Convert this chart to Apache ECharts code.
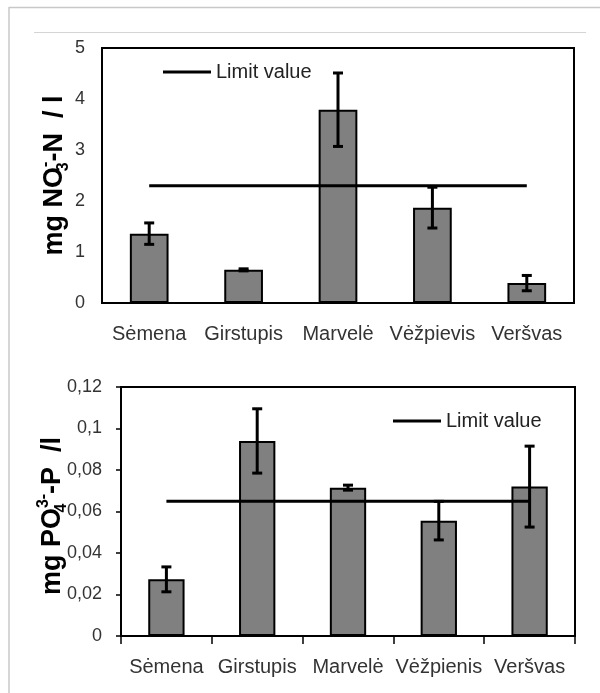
<!DOCTYPE html>
<html>
<head>
<meta charset="utf-8">
<script src="https://cdn.jsdelivr.net/npm/echarts@6/dist/echarts.min.js"></script>
<style>
html,body{margin:0;padding:0;background:#fff;}
#chart{width:600px;height:693px;}
</style>
</head>
<body>
<div id="chart"></div>
<script>
// ---- data ----
const categoriesTop = ['Sėmena', 'Girstupis', 'Marvelė', 'Vėžpievis', 'Veršvas'];
const nitrateMean = [1.36, 0.65, 3.79, 1.87, 0.39];
const nitrateErr = [0.21, 0.02, 0.72, 0.40, 0.15];
const nitrateLimit = [2.3, 2.3, 2.3, 2.3, 2.3];

const categoriesBottom = ['Sėmena', 'Girstupis', 'Marvelė', 'Vėžpienis', 'Veršvas'];
const phosphateMean = [0.0273, 0.094, 0.0715, 0.0556, 0.072];
const phosphateErr = [0.006, 0.0155, 0.0012, 0.0093, 0.0195];
const phosphateLimit = [0.065, 0.065, 0.065, 0.065, 0.065];

const topTicks = [0, 1, 2, 3, 4, 5];
const bottomTicks = ['0', '0,02', '0,04', '0,06', '0,08', '0,1', '0,12'];

// ---- build ----
function errData(mean, err) {
  return mean.map((m, i) => [i, m - err[i], m + err[i]]);
}
function errRender(params, api) {
  const lo = api.coord([api.value(0), api.value(1)]);
  const hi = api.coord([api.value(0), api.value(2)]);
  const hw = 5;
  const st = { stroke: '#000', lineWidth: 3 };
  return {
    type: 'group',
    children: [
      { type: 'line', shape: { x1: lo[0], y1: lo[1], x2: hi[0], y2: hi[1] }, style: st },
      { type: 'line', shape: { x1: lo[0] - hw, y1: lo[1], x2: lo[0] + hw, y2: lo[1] }, style: st },
      { type: 'line', shape: { x1: hi[0] - hw, y1: hi[1], x2: hi[0] + hw, y2: hi[1] }, style: st }
    ]
  };
}
const FONT = 'Liberation Sans, Arial, sans-serif';
const labelColor = '#333';
const rich = {
  b: { fontSize: 27, fontWeight: 'bold', color: '#000', fontFamily: FONT, lineHeight: 34 },
  sub: { fontSize: 16, fontWeight: 'bold', color: '#000', fontFamily: FONT, verticalAlign: 'bottom', lineHeight: 17, width: 0 },
  sup: { fontSize: 16, fontWeight: 'bold', color: '#000', fontFamily: FONT, verticalAlign: 'top', lineHeight: 18 }
};

const chart = echarts.init(document.getElementById('chart'), null, { renderer: 'canvas' });
chart.setOption({
  animation: false,
  backgroundColor: '#fff',
  textStyle: { fontFamily: FONT },
  graphic: [
    { type: 'line', shape: { x1: 9, y1: 7.5, x2: 600, y2: 7.5 }, style: { stroke: '#c8c8c8', lineWidth: 1.5 } },
    { type: 'line', shape: { x1: 9, y1: 7, x2: 9, y2: 693 }, style: { stroke: '#c8c8c8', lineWidth: 1.5 } },
    { type: 'line', shape: { x1: 34, y1: 32.5, x2: 586, y2: 32.5 }, style: { stroke: '#d4d4d4', lineWidth: 1 } }
  ],
  legend: [
    { left: 158, top: 57, data: ['Limit value'], icon: 'rect', itemWidth: 48, itemHeight: 3,
      itemStyle: { color: '#000' }, textStyle: { fontSize: 20, color: '#222', fontFamily: FONT }, selectedMode: false },
    { left: 388, top: 406, data: ['Limit value'], icon: 'rect', itemWidth: 48, itemHeight: 3,
      itemStyle: { color: '#000' }, textStyle: { fontSize: 20, color: '#222', fontFamily: FONT }, selectedMode: false }
  ],
  grid: [
    { left: 102, top: 48, width: 472, height: 255, show: true, borderColor: '#000', borderWidth: 2, backgroundColor: 'transparent' },
    { left: 121, top: 387, width: 454, height: 249, show: true, borderColor: '#000', borderWidth: 2, backgroundColor: 'transparent' }
  ],
  xAxis: [
    { type: 'category', gridIndex: 0, data: categoriesTop,
      axisLine: { lineStyle: { color: '#000', width: 2 } }, axisTick: { show: false },
      axisLabel: { fontSize: 20, color: labelColor, margin: 21, interval: 0, fontFamily: FONT } },
    { type: 'category', gridIndex: 1, data: categoriesBottom,
      axisLine: { lineStyle: { color: '#000', width: 2 } },
      axisTick: { show: true, length: 8, lineStyle: { color: '#000', width: 1.5 } },
      axisLabel: { fontSize: 20, color: labelColor, margin: 21, interval: 0, fontFamily: FONT } }
  ],
  yAxis: [
    { type: 'value', gridIndex: 0, min: 0, max: 5, interval: 1,
      axisLine: { show: true, lineStyle: { color: '#000', width: 2 } }, axisTick: { show: false },
      splitLine: { show: false },
      axisLabel: { fontSize: 18, color: labelColor, margin: 17, fontFamily: FONT,
        formatter: v => String(topTicks[Math.round(v)]) },
      name: '{b|mg NO}{sub|3}{sup|-}{b|-N  / l}', nameLocation: 'middle', nameRotate: 90, nameGap: 30,
      nameMoveOverlap: false,
      nameTextStyle: { fontSize: 27, fontWeight: 'bold', rich: rich } },
    { type: 'value', gridIndex: 1, min: 0, max: 0.12, interval: 0.02,
      axisLine: { show: true, lineStyle: { color: '#000', width: 2 } },
      axisTick: { show: true, length: 5, lineStyle: { color: '#000', width: 1.5 } },
      splitLine: { show: false },
      axisLabel: { fontSize: 18, color: labelColor, margin: 19, fontFamily: FONT,
        formatter: v => bottomTicks[Math.round(v / 0.02)] },
      name: '{b|mg PO}{sub|4}{sup|3-}{b|-P  /l}', nameLocation: 'middle', nameRotate: 90, nameGap: 51,
      nameMoveOverlap: false,
      nameTextStyle: { fontSize: 27, fontWeight: 'bold', padding: [0, 9, 0, 0], rich: rich } }
  ],
  series: [
    { type: 'bar', xAxisIndex: 0, yAxisIndex: 0, data: nitrateMean, barWidth: '41%',
      itemStyle: { color: '#808080', borderColor: '#000', borderWidth: 2 }, z: 2 },
    { type: 'custom', xAxisIndex: 0, yAxisIndex: 0, data: errData(nitrateMean, nitrateErr),
      renderItem: errRender, encode: { x: 0, y: [1, 2] }, z: 3 },
    { name: 'Limit value', type: 'line', xAxisIndex: 0, yAxisIndex: 0, data: nitrateLimit,
      symbol: 'none', lineStyle: { color: '#000', width: 3 }, itemStyle: { color: '#000' }, z: 4 },
    { type: 'bar', xAxisIndex: 1, yAxisIndex: 1, data: phosphateMean, barWidth: '40%',
      itemStyle: { color: '#808080', borderColor: '#000', borderWidth: 2 }, z: 2 },
    { type: 'custom', xAxisIndex: 1, yAxisIndex: 1, data: errData(phosphateMean, phosphateErr),
      renderItem: errRender, encode: { x: 0, y: [1, 2] }, z: 3 },
    { name: 'Limit value', type: 'line', xAxisIndex: 1, yAxisIndex: 1, data: phosphateLimit,
      symbol: 'none', lineStyle: { color: '#000', width: 3 }, itemStyle: { color: '#000' }, z: 4 }
  ]
});
</script>
</body>
</html>
